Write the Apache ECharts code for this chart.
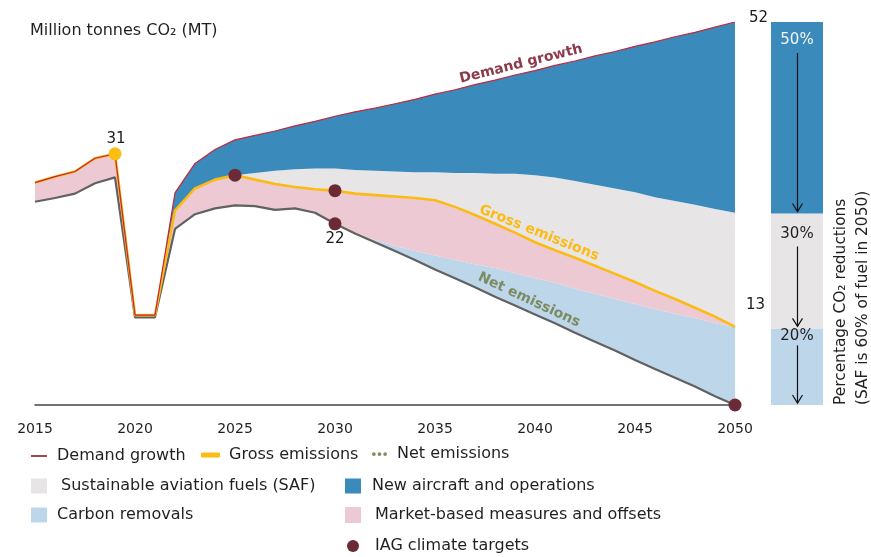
<!DOCTYPE html>
<html>
<head>
<meta charset="utf-8">
<script src="https://cdn.jsdelivr.net/npm/echarts@6/dist/echarts.min.js"></script>
<style>
html, body { margin: 0; padding: 0; background: #fff; }
#container { width: 871px; height: 557px; }
</style>
</head>
<body>
<div id="container"></div>
<script>
// years on the x axis
var years = ['2015', '2016', '2017', '2018', '2019', '2020', '2021', '2022', '2023', '2024',
	'2025', '2026', '2027', '2028', '2029', '2030', '2031', '2032', '2033', '2034',
	'2035', '2036', '2037', '2038', '2039', '2040', '2041', '2042', '2043', '2044',
	'2045', '2046', '2047', '2048', '2049', '2050'];

// demand growth (top line)
var demand = [30.2, 31.0, 31.7, 33.5, 34.1, 12.2, 12.2, 28.8, 32.8, 34.7,
	36.0, 36.6, 37.2, 37.9, 38.5, 39.2, 39.8, 40.3, 40.9, 41.5,
	42.2, 42.8, 43.5, 44.1, 44.8, 45.4, 46.1, 46.7, 47.4, 48.0,
	48.7, 49.3, 50.0, 50.6, 51.3, 52.0];

// gross emissions
var gross = [30.2, 31.0, 31.7, 33.5, 34.1, 12.2, 12.2, 26.4, 29.4, 30.6,
	31.2, 30.6, 30.0, 29.6, 29.3, 29.1, 28.7, 28.5, 28.3, 28.1,
	27.8, 26.9, 25.8, 24.6, 23.4, 22.1, 21.0, 20.0, 18.9, 17.8,
	16.7, 15.5, 14.4, 13.2, 12.0, 10.6];

// net emissions
var net = [27.6, 28.1, 28.7, 30.1, 30.9, 11.9, 11.9, 23.9, 25.9, 26.7,
	27.1, 27.0, 26.5, 26.7, 26.1, 24.6, 23.3, 22.1, 20.9, 19.7,
	18.4, 17.2, 16.0, 14.7, 13.5, 12.3, 11.1, 9.8, 8.6, 7.4,
	6.1, 4.9, 3.7, 2.5, 1.2, 0];

// top of the SAF band, from 2025 (before that it sits on gross)
var safStart = '2025';
var safTop = [31.2, 31.5, 31.8, 32.0, 32.1, 32.1, 31.9, 31.8, 31.7, 31.6,
	31.6, 31.5, 31.5, 31.4, 31.4, 31.2, 30.9, 30.4, 29.9, 29.4,
	28.9, 28.2, 27.7, 27.2, 26.6, 26.1];

// top of the carbon removals band, from 2030 (before that it sits on net)
var removalStart = '2030';
var removalTop = [24.6, 23.4, 22.4, 21.6, 20.9, 20.3, 19.7, 19.1, 18.6, 17.9,
	17.2, 16.6, 15.8, 15.1, 14.4, 13.7, 13.0, 12.4, 11.8, 11.1, 10.6];

// IAG climate targets
var targetYears = ['2025', '2030', '2030', '2050'];
var targetValues = [31.2, 29.1, 24.6, 0];

// value callouts
var calloutYears = ['2019', '2030', '2050', '2050'];
var calloutValues = [34.1, 24.6, 52.0, 10.6];
var calloutText = ['31', '22', '52', '13'];

// right hand bar: percentage CO2 reductions, bottom to top
var pctShares = [20, 30, 50];

var FONT = 'DejaVu Sans';
var TXT = '#231f20';

var safIdx = years.indexOf(safStart);
var remIdx = years.indexOf(removalStart);
var safFull = years.map(function (y, i) { return i < safIdx ? gross[i] : safTop[i - safIdx]; });
var remFull = years.map(function (y, i) { return i < remIdx ? net[i] : removalTop[i - remIdx]; });

function band(top, bottom) {
	return top.map(function (v, i) { return Math.max(0, +(v - bottom[i]).toFixed(2)); });
}

function areaSeries(name, data, color) {
	return {
		name: name, type: 'line', stack: 'bands', data: data,
		symbol: 'none', silent: true, color: color,
		lineStyle: { width: 0, opacity: 0 },
		areaStyle: { color: color, opacity: 1 },
		z: 2
	};
}

// legend entries, each one placed by hand
function legendItem(name, left, top, w, h, icon, color, gap) {
	return {
		data: [{ name: name, icon: icon, itemStyle: { color: color, borderWidth: 0, opacity: 1 } }],
		left: left, top: top, itemWidth: w, itemHeight: h,
		selectedMode: false, padding: 0,
		textStyle: { fontFamily: FONT, fontSize: 16, color: TXT, padding: [0, 0, 0, gap] }
	};
}
var dots = 'path://M0,2a2,2 0 1,0 4,0a2,2 0 1,0 -4,0M6,2a2,2 0 1,0 4,0a2,2 0 1,0 -4,0M12,2a2,2 0 1,0 4,0a2,2 0 1,0 -4,0';

var pctColors = ['#bed6ea', '#e7e5e6', '#3a8bbb'];
var pctTextColors = [TXT, TXT, '#f4f4f4'];
var pctLabelDist = [0, 13, 11];

var chart = echarts.init(document.getElementById('container'));

var option = {
	animation: false,
	backgroundColor: '#fff',
	textStyle: { fontFamily: FONT },
	title: {
		text: 'Million tonnes CO\u2082 (MT)', left: 30, top: 23, padding: 0,
		textStyle: { fontFamily: FONT, fontSize: 16, fontWeight: 'normal', color: TXT }
	},
	grid: [
		{ left: 35, right: 136, top: 22, bottom: 152, outerBoundsMode: 'none' },
		{ left: 771, width: 52, top: 22, bottom: 152, outerBoundsMode: 'none' }
	],
	xAxis: [{
		type: 'category', data: years, boundaryGap: false,
		axisLine: { lineStyle: { color: '#444', width: 1.5 } },
		axisTick: { show: false },
		splitLine: { show: false },
		axisLabel: {
			interval: function (i, v) { return +v % 5 === 0; },
			fontFamily: FONT, fontSize: 14, color: TXT, margin: 17
		}
	}, {
		type: 'category', gridIndex: 1, data: ['share'], show: false
	}],
	yAxis: [{
		type: 'value', min: 0, max: 52, show: false, splitLine: { show: false }
	}, {
		type: 'value', gridIndex: 1, min: 0, max: 100, show: false, splitLine: { show: false }
	}],
	legend: [
		legendItem('Demand growth', 31, 448, 16, 2, 'rect', '#a3464f', 5),
		legendItem('Gross emissions', 201, 447, 19, 5, 'roundRect', '#fcbb14', 4),
		legendItem('Net emissions', 372, 446, 15, 4, dots, '#7e8c64', 5),
		legendItem('Sustainable aviation fuels (SAF)', 31, 478, 16, 15, 'rect', '#e7e5e6', 9),
		legendItem('New aircraft and operations', 345, 478, 16, 15, 'rect', '#3a8bbb', 6),
		legendItem('Carbon removals', 31, 507, 16, 15, 'rect', '#bed6ea', 5),
		legendItem('Market-based measures and offsets', 345, 507, 16, 16, 'rect', '#ecc9d3', 9),
		legendItem('IAG climate targets', 347, 538, 12, 12, 'circle', '#6c2a36', 11)
	],
	series: [
		{
			name: 'base', type: 'line', stack: 'bands', data: net, symbol: 'none', silent: true,
			lineStyle: { width: 0, opacity: 0 }, z: 2
		},
		areaSeries('Carbon removals', band(remFull, net), '#bed6ea'),
		areaSeries('Market-based measures and offsets', band(gross, remFull), '#ecc9d3'),
		areaSeries('Sustainable aviation fuels (SAF)', band(safFull, gross), '#e7e5e6'),
		areaSeries('New aircraft and operations', band(demand, safFull), '#3a8bbb'),
		{
			name: 'Net emissions', type: 'line', data: net, symbol: 'none', silent: true,
			color: '#7e8c64', lineStyle: { color: '#616161', width: 2.2 }, z: 3
		},
		{
			name: 'Gross emissions', type: 'line', data: gross, symbol: 'none', silent: true,
			color: '#fcbb14', lineStyle: { color: '#fcbb14', width: 2.6 }, z: 4
		},
		{
			name: 'Demand growth', type: 'line', data: demand, symbol: 'none', silent: true,
			color: '#a3464f', lineStyle: { color: '#c0283a', width: 1.2 }, z: 5
		},
		{
			name: 'peak', type: 'scatter', silent: true, z: 6,
			data: [[calloutYears[0], calloutValues[0]]],
			symbolSize: 13, itemStyle: { color: '#fbbf14', opacity: 1 }
		},
		{
			name: 'IAG climate targets', type: 'scatter', silent: true, z: 7,
			data: targetYears.map(function (y, i) { return [y, targetValues[i]]; }),
			symbolSize: 13, color: '#6c2a36', itemStyle: { color: '#6c2a36', opacity: 1 }
		},
		{
			name: 'callouts', type: 'scatter', silent: true, z: 8, symbolSize: 0,
			itemStyle: { opacity: 1 },
			data: calloutYears.map(function (y, i) {
				var pos = [['top', [1, -1]], ['bottom', [0, 2]], ['right', [8, -4]], ['right', [5, -22]]][i];
				return { value: [y, calloutValues[i]], label: { position: pos[0], offset: pos[1], color: '#1a1a1a' } };
			}),
			label: {
				show: true, fontFamily: FONT, fontSize: 15, color: '#1a1a1a', distance: 6, opacity: 1,
				formatter: function (p) { return calloutText[p.dataIndex]; }
			}
		}
	].concat(pctShares.map(function (v, i) {
		return {
			name: 'pct' + i, type: 'bar', xAxisIndex: 1, yAxisIndex: 1, stack: 'pct',
			barWidth: '100%', silent: true, data: [v],
			itemStyle: { color: pctColors[i] },
			label: {
				show: true, position: 'insideTop', distance: pctLabelDist[i],
				formatter: v + '%', fontFamily: FONT, fontSize: 15, color: pctTextColors[i]
			}
		};
	})),
	graphic: [
		{
			type: 'text', x: 521, y: 64, rotation: 14 * Math.PI / 180, z: 50,
			style: { text: 'Demand growth', fontFamily: FONT, fontSize: 14, fontWeight: 'bold',
				fill: '#8c3b4a', textAlign: 'center', textVerticalAlign: 'middle' }
		},
		{
			type: 'text', x: 539, y: 233, rotation: -22 * Math.PI / 180, z: 50,
			style: { text: 'Gross emissions', fontFamily: FONT, fontSize: 14, fontWeight: 'bold',
				fill: '#fbbb14', textAlign: 'center', textVerticalAlign: 'middle' }
		},
		{
			type: 'text', x: 529, y: 300, rotation: -25 * Math.PI / 180, z: 50,
			style: { text: 'Net emissions', fontFamily: FONT, fontSize: 14, fontWeight: 'bold',
				fill: '#7c8c62', textAlign: 'center', textVerticalAlign: 'middle' }
		},
		{
			type: 'text', x: 841, y: 405, rotation: Math.PI / 2, z: 50,
			style: { text: 'Percentage CO\u2082 reductions', fontFamily: FONT, fontSize: 15.4,
				fill: TXT, textAlign: 'left', textVerticalAlign: 'middle' }
		},
		{
			type: 'text', x: 863, y: 405, rotation: Math.PI / 2, z: 50,
			style: { text: '(SAF is 60% of fuel in 2050)', fontFamily: FONT, fontSize: 15.4,
				fill: TXT, textAlign: 'left', textVerticalAlign: 'middle' }
		}
	]
};
chart.setOption(option);

// arrows inside the right hand bar, placed from its own scale
var arrows = [];
var cum = 0;
var arrowTopGap = [17, 33, 31];
pctShares.forEach(function (v, i) {
	var bottom = chart.convertToPixel({ gridIndex: 1 }, [0, cum]);
	var top = chart.convertToPixel({ gridIndex: 1 }, [0, cum + v]);
	cum += v;
	var cx = Math.round(bottom[0]) + 0.5;
	var y1 = top[1] + arrowTopGap[i];
	var y2 = bottom[1] - 2;
	arrows.push({
		type: 'line', shape: { x1: cx, y1: y1, x2: cx, y2: y2 },
		style: { stroke: '#111', lineWidth: 1.2 }, z: 50, silent: true
	});
	arrows.push({
		type: 'polyline', shape: { points: [[cx - 5, y2 - 8], [cx, y2], [cx + 5, y2 - 8]] },
		style: { stroke: '#111', lineWidth: 1.2, fill: null }, z: 50, silent: true
	});
});
chart.setOption({ graphic: option.graphic.concat(arrows) });
</script>
</body>
</html>
